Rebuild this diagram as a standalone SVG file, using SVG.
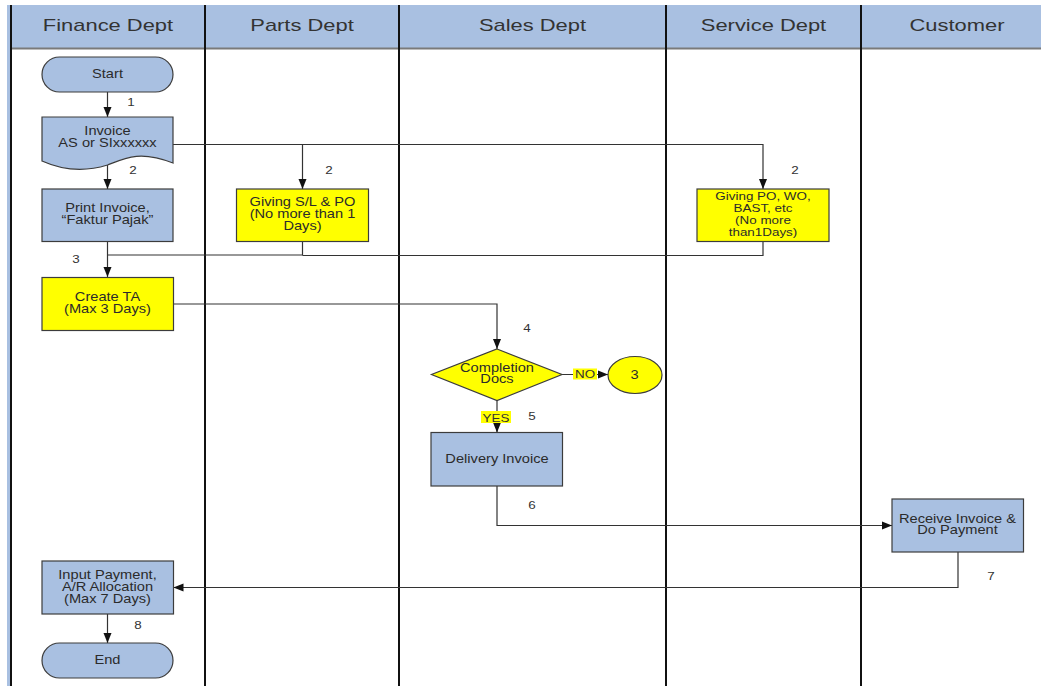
<svg xmlns="http://www.w3.org/2000/svg" width="1041" height="686" viewBox="0 0 1041 686">
<style>
text{font-family:"Liberation Sans",Arial,sans-serif;fill:#2b2b2b}
.hd{font-size:16px;text-anchor:middle;fill:#333}
.t{font-size:12px;text-anchor:middle}
.s{font-size:11px;text-anchor:middle}
.n{font-size:11px;text-anchor:middle;fill:#333}
.blue{fill:#a9c0e1;stroke:#3c3c3c;stroke-width:1.2}
.yel{fill:#ffff00;stroke:#3c3c3c;stroke-width:1.2}
.lane{stroke:#111;stroke-width:2;fill:none}
.c{stroke:#333;stroke-width:1.2;fill:none}
.hl{fill:#ffff00}
</style>
<defs>
<marker id="ar" markerUnits="userSpaceOnUse" markerWidth="10" markerHeight="10" viewBox="0 0 10 10" refX="10" refY="5" orient="auto">
<path d="M0,1 L10,5 L0,9 Z" fill="#111"/>
</marker>
</defs>
<rect x="0" y="0" width="1041" height="686" fill="#fff"/>
<g id="swimlanes">
<rect x="7" y="5" width="4" height="681" fill="#a9c0e1"/>
<rect x="11" y="5" width="1030" height="43" fill="#a9c0e1"/>
<line x1="11" y1="48.5" x2="1041" y2="48.5" stroke="#7a7a7a" stroke-width="2"/>
<line class="lane" x1="11" y1="5" x2="11" y2="686"/>
<line class="lane" x1="205" y1="5" x2="205" y2="686"/>
<line class="lane" x1="399" y1="5" x2="399" y2="686"/>
<line class="lane" x1="666" y1="5" x2="666" y2="686"/>
<line class="lane" x1="861" y1="5" x2="861" y2="686"/>
<text class="hd" transform="translate(108,31) scale(1.37,1)" x="0" y="0">Finance Dept</text>
<text class="hd" transform="translate(302,31) scale(1.37,1)" x="0" y="0">Parts Dept</text>
<text class="hd" transform="translate(532.5,31) scale(1.37,1)" x="0" y="0">Sales Dept</text>
<text class="hd" transform="translate(763.5,31) scale(1.37,1)" x="0" y="0">Service Dept</text>
<text class="hd" transform="translate(957,31) scale(1.37,1)" x="0" y="0">Customer</text>
</g>
<g id="connectors">
<line class="c" x1="107.5" y1="92" x2="107.5" y2="117" marker-end="url(#ar)"/>
<line class="c" x1="107.5" y1="165" x2="107.5" y2="189" marker-end="url(#ar)"/>
<polyline class="c" points="173,144.5 763,144.5 763,189" marker-end="url(#ar)"/>
<line class="c" x1="302.5" y1="144.5" x2="302.5" y2="189" marker-end="url(#ar)"/>
<line class="c" x1="107.5" y1="241.5" x2="107.5" y2="277" marker-end="url(#ar)"/>
<polyline class="c" points="302.5,241.5 302.5,255 107.5,255"/>
<polyline class="c" points="763,241.5 763,255.5 302.5,255.5"/>
<polyline class="c" points="173,304 497,304 497,349" marker-end="url(#ar)"/>
<line class="c" x1="562" y1="374.5" x2="608" y2="374.5" marker-end="url(#ar)"/>
<line class="c" x1="497" y1="400.5" x2="497" y2="432.5" marker-end="url(#ar)"/>
<polyline class="c" points="497,486 497,525.5 892,525.5" marker-end="url(#ar)"/>
<polyline class="c" points="958,552 958,587.5 173.5,587.5" marker-end="url(#ar)"/>
<line class="c" x1="107.5" y1="614" x2="107.5" y2="643" marker-end="url(#ar)"/>
<text class="n" transform="translate(131,106) scale(1.22,1)">1</text>
<text class="n" transform="translate(133,174) scale(1.22,1)">2</text>
<text class="n" transform="translate(329,174) scale(1.22,1)">2</text>
<text class="n" transform="translate(795,174) scale(1.22,1)">2</text>
<text class="n" transform="translate(76,263) scale(1.22,1)">3</text>
<text class="n" transform="translate(527,332) scale(1.22,1)">4</text>
<rect class="hl" x="573" y="368.5" width="24" height="11"/>
<text class="n" transform="translate(585,378) scale(1.22,1)">NO</text>
<rect class="hl" x="481" y="411" width="30" height="12"/>
<text class="n" transform="translate(496,421.5) scale(1.22,1)">YES</text>
<text class="n" transform="translate(532,420) scale(1.22,1)">5</text>
<text class="n" transform="translate(532,508.5) scale(1.22,1)">6</text>
<text class="n" transform="translate(991,579.5) scale(1.22,1)">7</text>
<text class="n" transform="translate(138,628.5) scale(1.22,1)">8</text>
</g>
<g id="start">
<rect class="blue" x="42" y="57" width="131" height="35" rx="17.5"/>
<text class="t" transform="translate(107.5,78) scale(1.22,1)">Start</text>
</g>
<g id="invoice">
<path class="blue" d="M42,117 H173 V163 C140,150 125,158 107.5,165 C85,172 62,170 42,161 Z"/>
<text class="t" transform="translate(107.5,134.5) scale(1.22,1)"><tspan x="0" y="0">Invoice</tspan><tspan x="0" y="12.5">AS or SIxxxxxx</tspan></text>
</g>
<g id="print-invoice">
<rect class="blue" x="42" y="189" width="131" height="52.5"/>
<text class="t" transform="translate(107.5,212) scale(1.22,1)"><tspan x="0" y="0">Print Invoice,</tspan><tspan x="0" y="12.5">“Faktur Pajak”</tspan></text>
</g>
<g id="giving-sl-po">
<rect class="yel" x="236.5" y="189" width="132" height="52.5"/>
<text class="t" transform="translate(302.5,205.5) scale(1.22,1)"><tspan x="0" y="0">Giving S/L &amp; PO</tspan><tspan x="0" y="12.3">(No more than 1</tspan><tspan x="0" y="25">Days)</tspan></text>
</g>
<g id="giving-po-wo">
<rect class="yel" x="697" y="189" width="132" height="52.5"/>
<text class="s" transform="translate(763,200) scale(1.22,1)"><tspan x="0" y="0">Giving PO, WO,</tspan><tspan x="0" y="12">BAST, etc</tspan><tspan x="0" y="24">(No more</tspan><tspan x="0" y="36">than1Days)</tspan></text>
</g>
<g id="create-ta">
<rect class="yel" x="42" y="277.5" width="131.5" height="53"/>
<text class="t" transform="translate(107.5,301) scale(1.22,1)"><tspan x="0" y="0">Create TA</tspan><tspan x="0" y="12.3">(Max 3 Days)</tspan></text>
</g>
<g id="completion-docs">
<polygon class="yel" points="497,349 562,374.5 497,400.5 431.5,374.5"/>
<text class="t" transform="translate(497,371.5) scale(1.22,1)"><tspan x="0" y="0">Completion</tspan><tspan x="0" y="12">Docs</tspan></text>
</g>
<g id="connector-3">
<ellipse class="yel" cx="635" cy="375" rx="27" ry="18.5"/>
<text class="t" transform="translate(634.5,379) scale(1.22,1)">3</text>
</g>
<g id="delivery-invoice">
<rect class="blue" x="431" y="432.5" width="131.5" height="53.5"/>
<text class="t" transform="translate(497,462.5) scale(1.22,1)">Delivery Invoice</text>
</g>
<g id="receive-invoice">
<rect class="blue" x="892" y="499" width="131.5" height="53"/>
<text class="t" transform="translate(957.5,522.5) scale(1.22,1)"><tspan x="0" y="0">Receive Invoice &amp;</tspan><tspan x="0" y="12">Do Payment</tspan></text>
</g>
<g id="input-payment">
<rect class="blue" x="42" y="561" width="131.5" height="53"/>
<text class="t" transform="translate(107.5,579) scale(1.22,1)"><tspan x="0" y="0">Input Payment,</tspan><tspan x="0" y="12">A/R Allocation</tspan><tspan x="0" y="24">(Max 7 Days)</tspan></text>
</g>
<g id="end">
<rect class="blue" x="42" y="643" width="131" height="35" rx="17.5"/>
<text class="t" transform="translate(107.5,664) scale(1.22,1)">End</text>
</g>
</svg>
